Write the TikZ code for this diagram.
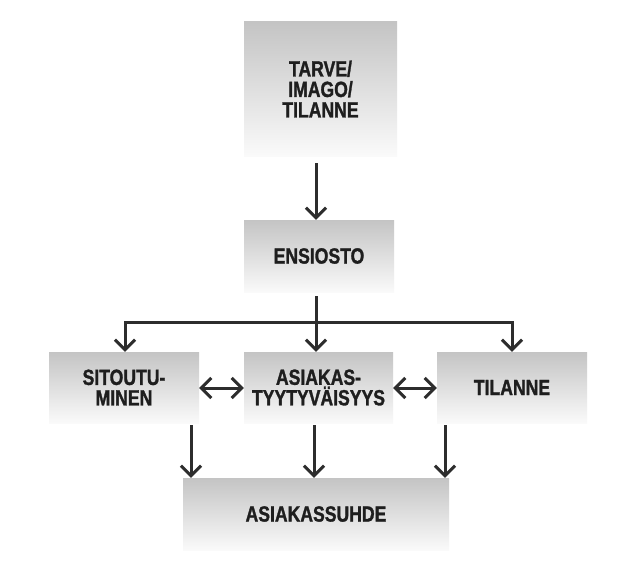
\documentclass[tikz,border=0pt]{standalone}
\usepackage{fontspec}
\setmainfont{Liberation Sans}[FakeStretch=0.8, BoldFeatures={FakeBold=1.3}]
\usetikzlibrary{arrows.meta}
\definecolor{boxtop}{RGB}{196,196,196}
\definecolor{boxbot}{RGB}{250,250,250}
\definecolor{ink}{RGB}{30,30,30}
\definecolor{arrowink}{RGB}{45,45,45}
\tikzset{
  box/.style={top color=boxtop, bottom color=boxbot, draw=none, inner sep=0pt,
    align=center, text=ink, font=\bfseries\fontsize{22}{20.5}\selectfont},
  arr/.style={line width=3pt, draw=arrowink, -{Straight Barb[length=10pt,width=20pt]}},
  darr/.style={line width=3pt, draw=arrowink,
    {Straight Barb[length=10pt,width=20pt]}-{Straight Barb[length=10pt,width=20pt]}},
  plain/.style={line width=3pt, draw=arrowink}
}
\begin{document}
\begin{tikzpicture}[x=1pt,y=-1pt]
\useasboundingbox[fill=white] (0,0) rectangle (630,578);
% boxes
\node[box, minimum width=153pt, minimum height=134pt] (top) at (320.5,89) {TARVE/\\IMAGO/\\TILANNE};
\node[box, minimum width=150pt, minimum height=72pt] (ens) at (319,256) {ENSIOSTO};
\node[box, minimum width=150pt, minimum height=71pt] (sit) at (124,387.5) {SITOUTU-\\MINEN};
\node[box, minimum width=149pt, minimum height=71pt] (asi) at (318.5,387.5) {ASIAKAS-\\TYYTYVÄISYYS};
\node[box, minimum width=150pt, minimum height=71pt] (til) at (512,387.5) {TILANNE};
\node[box, minimum width=266pt, minimum height=72pt] (suh) at (316,514) {ASIAKASSUHDE};
% named free ends
\coordinate (a0) at (316,163);
\coordinate (b0) at (316,296);
\coordinate (hub) at (316,322);
\coordinate (hl) at (125,322);
\coordinate (hr) at (512,322);
\coordinate (d1) at (191,425);
\coordinate (d2) at (314,425);
\coordinate (d3) at (445,425);
% connectors
\draw[arr] (a0) -- (a0 |- ens.north);
\draw[plain] (b0) -- (hub);
\draw[plain, line cap=rect] (hl) -- (hr);
\draw[arr] (hub) -- (hub |- asi.north);
\draw[arr] (hl) -- (hl |- sit.north);
\draw[arr] (hr) -- (hr |- til.north);
\draw[darr] (sit.east |- 0,388) -- (asi.west |- 0,388);
\draw[darr] (asi.east |- 0,388) -- (til.west |- 0,388);
\draw[arr] (d1) -- (d1 |- suh.north);
\draw[arr] (d2) -- (d2 |- suh.north);
\draw[arr] (d3) -- (d3 |- suh.north);
\end{tikzpicture}
\end{document}
